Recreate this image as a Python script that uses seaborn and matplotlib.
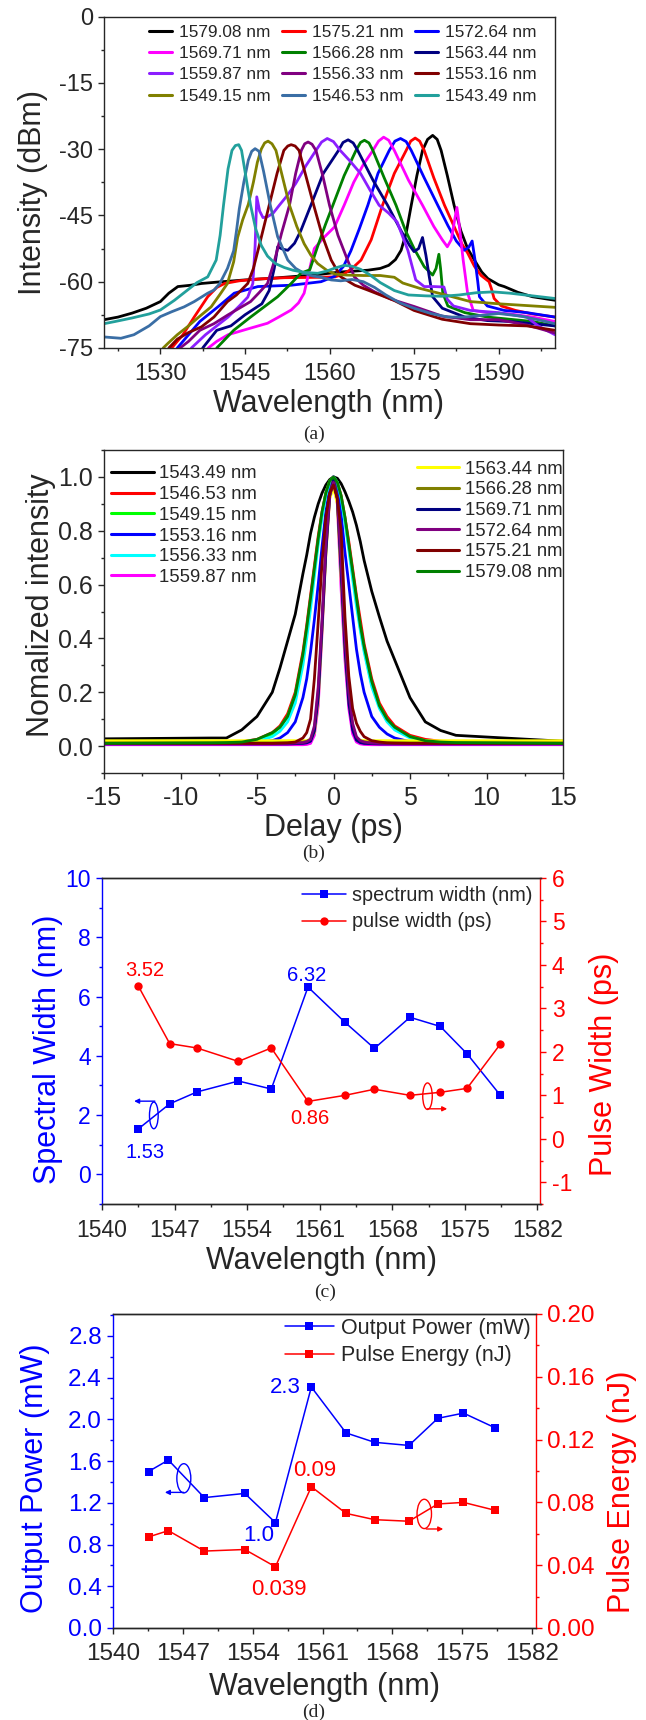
import matplotlib
matplotlib.use("Agg")
import matplotlib.pyplot as plt
import seaborn as sns
import pandas as pd
from matplotlib.patches import Ellipse
from matplotlib.lines import Line2D
from matplotlib.ticker import MultipleLocator, FormatStrFormatter

sns.set_theme(style="ticks")
plt.rcParams['font.family'] = ['Liberation Sans', 'DejaVu Sans']
plt.rcParams['axes.unicode_minus'] = False
plt.rcParams['axes.linewidth'] = 1.0
plt.rcParams['xtick.major.width'] = 1.0
plt.rcParams['ytick.major.width'] = 1.0
plt.rcParams['xtick.minor.width'] = 1.0
plt.rcParams['ytick.minor.width'] = 1.0

# ---------------- panel (a): spectra ----------------
a_labels = ["1579.08 nm", "1575.21 nm", "1572.64 nm", "1569.71 nm", "1566.28 nm", "1563.44 nm",
            "1559.87 nm", "1556.33 nm", "1553.16 nm", "1549.15 nm", "1546.53 nm", "1543.49 nm"]
a_colors = ["#000000", "#FF0000", "#0000FF", "#FF00FF", "#008000", "#000080",
            "#8B1EFF", "#800080", "#800000", "#808000", "#3A6EA5", "#22A09C"]

wl_1579 = [1520, 1522.5, 1525, 1527.5, 1530, 1531.5, 1533.1, 1535.4, 1537.3, 1540, 1545, 1550, 1555, 1558.5,
           1562, 1566.8, 1569, 1570.5, 1571.7, 1572.7, 1573.6, 1574.5, 1575.5, 1576.5, 1577.4, 1578.3, 1579.1,
           1579.8, 1580.9, 1582.1, 1583.3, 1584.5, 1585.7, 1587, 1588.1, 1590, 1591, 1593.4, 1596, 1600]
db_1579 = [-68.6, -68, -67.1, -66, -64.5, -62.6, -61.1, -60.8, -60.4, -60.1, -59.6, -59.2, -58.7, -58.3,
           -57.8, -57.4, -57.0, -56.3, -55, -52.9, -49, -42.7, -36, -30.3, -27.8, -26.9, -27.8,
           -30.3, -36, -42.7, -48.5, -52.5, -55.1, -57.8, -59.3, -60.7, -61.1, -62.4, -63.4, -64.2]

wl_1575 = [1532, 1534, 1536, 1538.4, 1540, 1541.4, 1544, 1547.3, 1552, 1558.5, 1561, 1562.5, 1564, 1565.6,
           1567.4, 1569.4, 1571.5, 1573.6, 1574.4, 1575.2, 1576.0, 1576.8, 1578.5, 1580.4, 1582.1, 1583.5,
           1584.5, 1585.7, 1586.9, 1587.7, 1588.3, 1588.7, 1589.2, 1590.5, 1593, 1596, 1600]
db_1575 = [-75, -72, -68, -63.4, -61.3, -60.4, -59.8, -59.4, -59.1, -59.0, -58.9, -58.3, -57, -55.1,
           -50.5, -42.7, -35.5, -30.3, -28.2, -27.5, -28.2, -30.3, -36.5, -42.7, -47.5, -51.5,
           -53.5, -56.5, -58.6, -59.4, -60.0, -61.5, -63.8, -65.5, -66.5, -67.3, -68]

wl_1572 = [1533, 1535, 1537, 1540.2, 1543.1, 1547.3, 1553.2, 1558.5, 1560.9, 1562.5, 1563.8, 1565.3,
           1566.8, 1568.6, 1570.6, 1571.6, 1572.6, 1573.6, 1574.5, 1576.8, 1579.2, 1581, 1582.5, 1583.9,
           1584.7, 1585.3, 1585.8, 1586.3, 1586.6, 1588, 1591, 1595, 1600]
db_1572 = [-75, -72, -69, -65.7, -62.6, -61.1, -60.8, -60, -58.8, -56.5, -53, -48,
           -42.7, -35.5, -30.3, -28.2, -27.6, -28.3, -30.3, -36.5, -42.7, -47.3, -50.8, -52.9,
           -52.2, -50.8, -55, -60, -63.4, -65.5, -66.5, -67, -68]

wl_1569 = [1538.5, 1540, 1542, 1546, 1549, 1551, 1553.2, 1554.5, 1555.5, 1556.5, 1557.3, 1559, 1560.9,
           1562.6, 1564.3, 1566, 1567.7, 1568.7, 1569.6, 1570.5, 1571.5, 1574, 1576.5, 1578.5, 1580,
           1580.9, 1581.6, 1582.2, 1582.6, 1583, 1583.7, 1584.5, 1585.5, 1588, 1592, 1596, 1600]
db_1569 = [-75, -73.5, -72, -70.5, -69.4, -68, -66.4, -64.8, -62.6, -57, -52.5, -50, -47.6,
           -42.7, -37.5, -33.5, -30.3, -28.2, -27.3, -28, -30.3, -37, -42.7, -47.5, -50.5,
           -52.1, -50.5, -46, -43.2, -47, -55, -62.6, -66.5, -67, -67.3, -68, -69]

wl_1566 = [1540, 1543, 1546, 1548.4, 1550.8, 1553.2, 1554.9, 1556.5, 1557.9, 1559.3, 1560.6, 1562.6,
           1564.7, 1565.5, 1566.2, 1567, 1567.7, 1569.7, 1571.8, 1573.5, 1575, 1576.8, 1578.3, 1578.9,
           1579.4, 1579.7, 1580.1, 1581, 1584, 1588, 1592, 1596, 1600]
db_1566 = [-75, -71, -68, -65.7, -63.4, -60.4, -58.1, -57.3, -52, -47, -42.7, -36,
           -30.3, -28.5, -28, -28.6, -30.3, -36.5, -42.7, -48.5, -52.5, -56.6, -58.5, -57,
           -53.8, -57, -62.6, -65.5, -67, -68, -68.5, -69, -70]

wl_1563 = [1537.5, 1540, 1542.5, 1545, 1548, 1549.3, 1550.2, 1550.8, 1551.6, 1552.6, 1553.8, 1554.9,
           1556.7, 1558.9, 1561.6, 1562.4, 1563.3, 1564.2, 1565, 1567.7, 1570.3, 1572.7, 1574.2, 1575,
           1575.8, 1576.5, 1577.1, 1577.7, 1578.3, 1580, 1584, 1588, 1592, 1596, 1600]
db_1563 = [-75, -71, -70, -67.5, -65, -62, -57, -52.1, -52.6, -52.9, -51.3, -48.5,
           -42.7, -35.5, -30.3, -28.5, -27.9, -28.6, -30.3, -37, -42.7, -48.5, -51.8, -53.2,
           -52.5, -50, -54, -58.9, -63.4, -66, -68, -68.8, -69, -69.5, -70]

wl_1559 = [1535.5, 1538, 1540, 1542, 1544, 1545.5, 1546.4, 1546.8, 1547.1, 1547.6, 1548.2, 1549, 1550,
           1551.1, 1552.5, 1554, 1555.8, 1557.6, 1558.6, 1559.6, 1560.7, 1561.9, 1563.5, 1565.5, 1567.2,
           1568.8, 1570.5, 1572, 1573.9, 1575.3, 1576.8, 1578.5, 1580.3, 1580.9, 1582, 1585, 1590, 1595,
           1597, 1600]
db_1559 = [-75, -72, -70, -68, -65.5, -63.5, -60.4, -52, -40.8, -44, -45.5, -45.3, -44.5,
           -42.7, -40.5, -37.8, -33.8, -30.3, -28.4, -27.6, -28.3, -30.3, -32.5, -35.5, -39.3,
           -42.7, -44.5, -46.5, -52.9, -59.6, -61.1, -61.1, -61.2, -64, -65.5, -66.5, -67, -68,
           -70, -72]

wl_1556 = [1533.5, 1535, 1537, 1539.5, 1542, 1544, 1546, 1547.5, 1549, 1550.3, 1551.5, 1552.9, 1554,
           1555.0, 1555.6, 1556.2, 1556.9, 1557.6, 1558.8, 1560.0, 1561.5, 1563.2, 1564.4, 1566, 1568,
           1571, 1575, 1580, 1585, 1590, 1595, 1600]
db_1556 = [-75, -73.5, -71, -69.5, -67.5, -66, -64.5, -62.5, -60.4, -55, -49, -42.7, -35.5,
           -30.3, -28.8, -28.4, -28.9, -30.3, -36, -42.7, -49.5, -55.1, -58.9, -60.8, -62.3,
           -64, -65.6, -67.8, -68.6, -68.6, -69.8, -71.6]

wl_1553 = [1531.5, 1533, 1535, 1537.3, 1539.5, 1541.9, 1543.5, 1545.5, 1546.5, 1547.5, 1549.3, 1550.7,
           1551.9, 1552.6, 1553.2, 1553.9, 1554.6, 1555.9, 1557.2, 1558.7, 1560.3, 1562, 1564.5, 1566.8,
           1569, 1571.4, 1575, 1580, 1585, 1590, 1595, 1600]
db_1553 = [-75, -73, -71.5, -70.2, -68, -64.5, -63, -60.4, -57, -52, -42.7, -35.5,
           -30.3, -29.3, -29.0, -29.3, -30.3, -36.5, -42.7, -49.5, -55.1, -58.9, -60.8, -61.9,
           -63, -64.2, -66.5, -68.5, -69.5, -69.8, -70, -71]

wl_1549 = [1530.5, 1531.3, 1533, 1534.8, 1537, 1539, 1540.5, 1541.9, 1543, 1543.7, 1544.6, 1545.6,
           1546.5, 1547.2, 1547.9, 1548.5, 1549.1, 1549.8, 1550.5, 1551.7, 1552.9, 1554.2, 1555.5,
           1556.7, 1557.9, 1559.5, 1561, 1563, 1566, 1569, 1571.5, 1573, 1576, 1580, 1585, 1590,
           1595, 1600]
db_1549 = [-75, -74, -72, -70.2, -67.8, -65.7, -63, -60.4, -55.5, -50, -46, -42.5,
           -37.5, -33, -30, -28.6, -28.2, -28.8, -30.3, -36.5, -42.7, -47.5, -51.4,
           -54, -55.9, -57.4, -58.3, -58.5, -58.6, -58.6, -59, -60.3, -61.5, -62.8, -64.5, -65,
           -65.4, -65.8]

wl_1546 = [1520, 1523, 1525.3, 1528, 1530, 1532, 1534.2, 1536, 1538.4, 1539.5, 1540.5, 1541.9, 1543,
           1543.5, 1544.0, 1544.8, 1545.6, 1546.2, 1546.8, 1547.5, 1548.3, 1549.5, 1550.8, 1552.6, 1554,
           1555.5, 1557, 1558.5, 1560.3, 1562, 1564, 1566, 1568, 1570, 1572.5, 1575, 1578, 1581, 1584,
           1587, 1590, 1594, 1597, 1600]
db_1546 = [-72.5, -72.8, -72, -70, -67.9, -66.8, -65.7, -64.5, -62.6, -61.9, -60.5, -57, -53,
           -48.5, -43.5, -37.5, -32.5, -30.5, -29.9, -30.5, -35, -42.7, -49.8, -55.1, -57,
           -58.1, -58.7, -59, -59.6, -59.8, -59.5, -60, -61.3, -63, -64.8, -66, -67.2, -68, -68,
           -67.6, -67.2, -67.8, -68.6, -69.5]

wl_1543 = [1520, 1522, 1525, 1528, 1530, 1532.5, 1534.8, 1536.5, 1538.4, 1539.9, 1540.6, 1541.2, 1542,
           1542.7, 1543.3, 1543.9, 1544.4, 1545.2, 1546.0, 1546.9, 1547.9, 1549, 1550.4, 1552, 1553.5,
           1555.5, 1557.9, 1559.5, 1561, 1562.6, 1564, 1565.5, 1567, 1569, 1571.5, 1574, 1577, 1580,
           1583, 1586, 1589, 1592, 1596, 1600]
db_1543 = [-69.5, -69, -68.2, -67.3, -66.4, -64.2, -61.9, -60.2, -58.9, -55.1, -49.5, -42.7, -34.5,
           -30.3, -29.2, -29.0, -30.3, -36.5, -42.7, -48, -51.8, -54.2, -55.9, -56.8, -57.4,
           -57.9, -58.1, -57.6, -56.9, -56.3, -56.5, -57.2, -58.3, -60.2, -62, -63, -63.2, -63.3,
           -63, -62.5, -62.3, -62.6, -63.2, -63.8]

a_wl = [wl_1579, wl_1575, wl_1572, wl_1569, wl_1566, wl_1563, wl_1559, wl_1556, wl_1553, wl_1549, wl_1546, wl_1543]
a_db = [db_1579, db_1575, db_1572, db_1569, db_1566, db_1563, db_1559, db_1556, db_1553, db_1549, db_1546, db_1543]

# ---------------- panel (b): autocorrelation ----------------
b_labels = ["1543.49 nm", "1546.53 nm", "1549.15 nm", "1553.16 nm", "1556.33 nm", "1559.87 nm",
            "1563.44 nm", "1566.28 nm", "1569.71 nm", "1572.64 nm", "1575.21 nm", "1579.08 nm"]
b_colors = ["#000000", "#FF0000", "#00FF00", "#0000FF", "#00FFFF", "#FF00FF",
            "#FFFF00", "#808000", "#000080", "#800080", "#800000", "#008000"]
delay_ps = [-15, -8, -7, -6, -5, -4, -3.5, -3, -2.5, -2, -1.75, -1.5, -1.25, -1, -0.75, -0.5, -0.25, 0,
            0.25, 0.5, 0.75, 1, 1.25, 1.5, 1.75, 2, 2.5, 3, 3.5, 4, 5, 6, 7, 8, 15]
ac_1543 = [0.027, 0.03, 0.03, 0.06, 0.11, 0.2, 0.29, 0.39, 0.49, 0.64, 0.71, 0.79, 0.85, 0.9, 0.94, 0.97, 0.99, 1.0,
           0.995, 0.975, 0.945, 0.91, 0.87, 0.82, 0.76, 0.69, 0.575, 0.48, 0.39, 0.32, 0.18, 0.09, 0.058, 0.04, 0.018]
ac_1546 = [0.012, 0.012, 0.013, 0.016, 0.025, 0.05, 0.075, 0.12, 0.2, 0.35, 0.45, 0.56, 0.67, 0.78, 0.87, 0.94, 0.985, 1.0,
           0.98, 0.93, 0.85, 0.76, 0.66, 0.56, 0.47, 0.38, 0.25, 0.16, 0.11, 0.075, 0.04, 0.025, 0.018, 0.015, 0.012]
ac_1549 = [0.01, 0.01, 0.011, 0.015, 0.022, 0.045, 0.07, 0.11, 0.19, 0.33, 0.43, 0.54, 0.65, 0.76, 0.86, 0.94, 0.985, 1.0,
           0.98, 0.92, 0.84, 0.74, 0.64, 0.54, 0.44, 0.36, 0.23, 0.15, 0.1, 0.065, 0.035, 0.02, 0.015, 0.013, 0.01]
ac_1553 = [0.01, 0.01, 0.01, 0.01, 0.013, 0.02, 0.03, 0.05, 0.09, 0.18, 0.25, 0.35, 0.47, 0.6, 0.74, 0.87, 0.96, 1.0,
           0.96, 0.86, 0.72, 0.6, 0.48, 0.36, 0.27, 0.2, 0.11, 0.07, 0.045, 0.03, 0.016, 0.012, 0.01, 0.01, 0.01]
ac_1556 = [0.01, 0.01, 0.011, 0.012, 0.018, 0.035, 0.055, 0.09, 0.16, 0.3, 0.4, 0.51, 0.63, 0.75, 0.85, 0.93, 0.98, 1.0,
           0.98, 0.92, 0.83, 0.73, 0.62, 0.52, 0.43, 0.35, 0.22, 0.14, 0.09, 0.06, 0.03, 0.018, 0.014, 0.012, 0.01]
ac_1559 = [0.005, 0.005, 0.005, 0.005, 0.005, 0.005, 0.005, 0.005, 0.005, 0.005, 0.006, 0.01, 0.04, 0.15, 0.42, 0.72, 0.92, 1.0,
           0.9, 0.58, 0.32, 0.14, 0.045, 0.015, 0.008, 0.006, 0.005, 0.005, 0.005, 0.005, 0.005, 0.005, 0.005, 0.005, 0.005]
ac_1563 = [0.02, 0.02, 0.02, 0.02, 0.02, 0.02, 0.02, 0.02, 0.02, 0.02, 0.02, 0.025, 0.05, 0.17, 0.43, 0.71, 0.92, 0.96,
           0.9, 0.62, 0.36, 0.17, 0.07, 0.03, 0.022, 0.02, 0.02, 0.02, 0.02, 0.02, 0.02, 0.02, 0.02, 0.02, 0.02]
ac_1566 = [0.012, 0.012, 0.012, 0.012, 0.012, 0.012, 0.012, 0.012, 0.013, 0.015, 0.018, 0.025, 0.065, 0.2, 0.45, 0.73, 0.93, 0.99,
           0.92, 0.66, 0.38, 0.18, 0.075, 0.03, 0.02, 0.016, 0.013, 0.012, 0.012, 0.012, 0.012, 0.012, 0.012, 0.012, 0.012]
ac_1569 = [0.008, 0.008, 0.008, 0.008, 0.008, 0.008, 0.008, 0.008, 0.009, 0.01, 0.012, 0.018, 0.055, 0.18, 0.44, 0.72, 0.93, 0.99,
           0.92, 0.64, 0.36, 0.16, 0.06, 0.022, 0.013, 0.01, 0.009, 0.008, 0.008, 0.008, 0.008, 0.008, 0.008, 0.008, 0.008]
ac_1572 = [0.01, 0.01, 0.01, 0.01, 0.01, 0.01, 0.01, 0.01, 0.011, 0.013, 0.016, 0.025, 0.075, 0.22, 0.47, 0.75, 0.93, 0.98,
           0.92, 0.68, 0.4, 0.2, 0.085, 0.035, 0.02, 0.015, 0.011, 0.01, 0.01, 0.01, 0.01, 0.01, 0.01, 0.01, 0.01]
ac_1575 = [0.01, 0.01, 0.01, 0.01, 0.01, 0.01, 0.011, 0.012, 0.015, 0.03, 0.05, 0.1, 0.25, 0.46, 0.68, 0.85, 0.94, 0.97,
           0.92, 0.8, 0.48, 0.26, 0.14, 0.085, 0.055, 0.035, 0.02, 0.015, 0.012, 0.011, 0.01, 0.01, 0.01, 0.01, 0.01]
ac_1579 = [0.01, 0.012, 0.013, 0.015, 0.025, 0.05, 0.07, 0.11, 0.19, 0.34, 0.44, 0.55, 0.66, 0.77, 0.87, 0.94, 0.985, 1.0,
           0.98, 0.93, 0.85, 0.75, 0.65, 0.55, 0.45, 0.37, 0.24, 0.15, 0.1, 0.07, 0.035, 0.02, 0.015, 0.013, 0.01]
b_traces = [ac_1543, ac_1546, ac_1549, ac_1553, ac_1556, ac_1559, ac_1563, ac_1566, ac_1569, ac_1572, ac_1575, ac_1579]

# ---------------- panel (c) ----------------
c_wl = [1543.49, 1546.53, 1549.15, 1553.16, 1556.33, 1559.87, 1563.44, 1566.28, 1569.71, 1572.64, 1575.21, 1578.4]
c_spec = [1.53, 2.38, 2.78, 3.15, 2.88, 6.32, 5.13, 4.25, 5.30, 4.99, 4.07, 2.68]
c_pulse = [3.52, 2.19, 2.09, 1.78, 2.09, 0.86, 1.00, 1.14, 1.00, 1.07, 1.16, 2.17]

# ---------------- panel (d) ----------------
d_wl = [1543.56, 1545.55, 1549.15, 1553.21, 1556.28, 1559.88, 1563.36, 1566.22, 1569.66, 1572.56, 1575.13, 1578.28]
d_power = [1.50, 1.61, 1.25, 1.29, 1.01, 2.31, 1.87, 1.78, 1.75, 2.01, 2.06, 1.92]
d_energy = [0.058, 0.062, 0.049, 0.050, 0.039, 0.090, 0.073, 0.069, 0.068, 0.079, 0.080, 0.075]

W, H = 646, 1720
fig = plt.figure(figsize=(W / 100, H / 100), dpi=100)


def rect(l, r, t, b):
    return [l / W, 1 - b / H, (r - l) / W, (b - t) / H]


TICK_KW = dict(direction='out', length=4.5, width=1.0)
MINOR_KW = dict(direction='out', length=2.5, width=1.0)
BLUE, RED = "#0000FF", "#FF0000"
SERIF = ['Liberation Serif', 'DejaVu Serif']

# ======== (a) ========
axA = fig.add_axes(rect(104, 555, 16.5, 348))
for wl, db, col in zip(a_wl, a_db, a_colors):
    sns.lineplot(x=wl, y=db, color=col, lw=2.0, ax=axA, estimator=None, sort=False)
axA.set_xlim(1520, 1600)
axA.set_ylim(-75, 0)
axA.xaxis.set_major_locator(MultipleLocator(15))
axA.xaxis.set_minor_locator(MultipleLocator(7.5))
axA.yaxis.set_major_locator(MultipleLocator(15))
axA.yaxis.set_minor_locator(MultipleLocator(7.5))
axA.tick_params(which='major', labelsize=17, **TICK_KW)
axA.tick_params(axis='x', which='major', pad=6)
axA.tick_params(which='minor', **MINOR_KW)
axA.set_xlabel("Wavelength (nm)", fontsize=22)
axA.set_ylabel("Intensity (dBm)", fontsize=22)
axA.xaxis.set_label_coords(0.497, -0.125)
axA.yaxis.set_label_coords(-0.125, 0.47)
hA = [Line2D([0], [0], color=c, lw=2.2) for c in a_colors]
order = [0, 3, 6, 9, 1, 4, 7, 10, 2, 5, 8, 11]
axA.legend([hA[i] for i in order], [a_labels[i] for i in order], ncol=3, frameon=False,
           fontsize=12.4, handlelength=1.35, handletextpad=0.4, columnspacing=0.65,
           labelspacing=0.36, loc='upper left', bbox_to_anchor=(0.085, 0.996), borderaxespad=0)
fig.text(314 / W, 1 - 434 / H, "(a)", family=SERIF, fontsize=14, ha='center', va='center')

# ======== (b) ========
axB = fig.add_axes(rect(104, 563, 450, 773))
for tr, col in zip(b_traces, b_colors):
    sns.lineplot(x=delay_ps, y=tr, color=col, lw=2.0, ax=axB, estimator=None, sort=False)
axB.set_xlim(-15, 15)
axB.set_ylim(-0.1, 1.1)
axB.xaxis.set_major_locator(MultipleLocator(5))
axB.xaxis.set_minor_locator(MultipleLocator(2.5))
axB.yaxis.set_major_locator(MultipleLocator(0.2))
axB.yaxis.set_minor_locator(MultipleLocator(0.1))
axB.yaxis.set_major_formatter(FormatStrFormatter('%.1f'))
axB.tick_params(which='major', labelsize=18, **TICK_KW)
axB.tick_params(axis='x', which='major', pad=5)
axB.tick_params(which='minor', **MINOR_KW)
axB.set_xlabel("Delay (ps)", fontsize=22)
axB.set_ylabel("Nomalized intensity", fontsize=22)
axB.xaxis.set_label_coords(0.5, -0.125)
axB.yaxis.set_label_coords(-0.105, 0.52)
hB = [Line2D([0], [0], color=c, lw=2.2) for c in b_colors]
legB1 = axB.legend(hB[:6], b_labels[:6], frameon=False, fontsize=13.3, handlelength=2.3,
                   handletextpad=0.3, labelspacing=0.2, loc='upper left',
                   bbox_to_anchor=(0.0, 0.975), borderaxespad=0)
axB.add_artist(legB1)
axB.legend(hB[6:], b_labels[6:], frameon=False, fontsize=13.3, handlelength=2.3,
           handletextpad=0.3, labelspacing=0.2, loc='upper right',
           bbox_to_anchor=(1.015, 0.99), borderaxespad=0)
fig.text(314 / W, 1 - 853 / H, "(b)", family=SERIF, fontsize=14, ha='center', va='center')

# ======== (c) ========
axC = fig.add_axes(rect(102, 540.5, 878, 1204))
sns.lineplot(x=c_wl, y=c_spec, color=BLUE, marker='s', markersize=5.5, markeredgewidth=0,
             lw=1.1, ax=axC, estimator=None, sort=False)
axC2 = axC.twinx()
sns.lineplot(x=c_wl, y=c_pulse, color=RED, marker='o', markersize=6, markeredgewidth=0,
             lw=1.1, ax=axC2, estimator=None, sort=False)
axC.set_xlim(1540, 1582.3)
axC.set_ylim(-1, 10)
axC2.set_ylim(-1.5, 6)
axC.set_xticks([1540, 1547, 1554, 1561, 1568, 1575, 1582])
axC.xaxis.set_minor_locator(MultipleLocator(3.5))
axC.set_yticks([0, 2, 4, 6, 8, 10])
axC.set_yticks([-1, 1, 3, 5, 7, 9], minor=True)
axC2.set_yticks([-1, 0, 1, 2, 3, 4, 5, 6])
axC2.set_yticks([-1.5, -0.5, 0.5, 1.5, 2.5, 3.5, 4.5, 5.5], minor=True)
for ax in (axC, axC2):
    ax.tick_params(which='major', labelsize=16.5, **TICK_KW)
    ax.tick_params(which='minor', **MINOR_KW)
axC.tick_params(axis='x', which='major', pad=6)
axC.tick_params(axis='y', which='both', colors=BLUE)
axC2.tick_params(axis='y', which='both', colors=RED)
axC.spines['left'].set_color(BLUE)
axC2.spines['left'].set_visible(False)
axC.spines['right'].set_visible(False)
axC2.spines['right'].set_color(RED)
axC.set_xlabel("Wavelength (nm)", fontsize=22)
axC.set_ylabel("Spectral Width (nm)", fontsize=22, color=BLUE)
axC2.set_ylabel("Pulse Width (ps)", fontsize=22, color=RED)
axC.xaxis.set_label_coords(0.5, -0.13)
axC.yaxis.set_label_coords(-0.09, 0.475)
axC2.yaxis.set_label_coords(1.11, 0.43)
hC = [Line2D([0], [0], color=BLUE, marker='s', ms=5.5, mew=0, lw=1.1),
      Line2D([0], [0], color=RED, marker='o', ms=6, mew=0, lw=1.1)]
axC2.legend(hC, ["spectrum width (nm)", "pulse width (ps)"], frameon=False, fontsize=14.3,
            handlelength=2.2, handletextpad=0.3, labelspacing=0.38, loc='upper right',
            bbox_to_anchor=(1.0, 1.0), borderaxespad=0)
axC2.text(1544.1, 3.87, "3.52", color=RED, fontsize=14.5, ha='center', va='center')
axC.text(1559.74, 6.70, "6.32", color=BLUE, fontsize=14.5, ha='center', va='center')
axC.text(1544.2, 0.75, "1.53", color=BLUE, fontsize=14.5, ha='center', va='center')
axC2.text(1560.1, 0.46, "0.86", color=RED, fontsize=14.5, ha='center', va='center')
axC.add_patch(Ellipse((1545.0, 1.99), 0.84, 0.9, fill=False, edgecolor=BLUE, lw=1.0))
axC.annotate("", xy=(1543.1, 2.47), xytext=(1545.1, 2.47),
             arrowprops=dict(arrowstyle='-|>', color=BLUE, lw=1.0, mutation_scale=7, shrinkA=0, shrinkB=0))
axC2.add_patch(Ellipse((1571.4, 0.98), 0.92, 0.61, fill=False, edgecolor=RED, lw=1.0))
axC2.annotate("", xy=(1573.3, 0.69), xytext=(1571.4, 0.69),
              arrowprops=dict(arrowstyle='-|>', color=RED, lw=1.0, mutation_scale=7, shrinkA=0, shrinkB=0))
fig.text(325 / W, 1 - 1292 / H, "(c)", family=SERIF, fontsize=14, ha='center', va='center')

# ======== (d) ========
axD = fig.add_axes(rect(113, 536, 1314, 1628))
sns.lineplot(x=d_wl, y=d_power, color=BLUE, marker='s', markersize=5.5, markeredgewidth=0,
             lw=1.1, ax=axD, estimator=None, sort=False)
axD2 = axD.twinx()
sns.lineplot(x=d_wl, y=d_energy, color=RED, marker='s', markersize=5.5, markeredgewidth=0,
             lw=1.1, ax=axD2, estimator=None, sort=False)
axD.set_xlim(1540, 1582.4)
axD.set_ylim(0, 3.01)
axD2.set_ylim(0, 0.2)
axD.set_xticks([1540, 1547, 1554, 1561, 1568, 1575, 1582])
axD.xaxis.set_minor_locator(MultipleLocator(3.5))
axD.set_yticks([0.0, 0.4, 0.8, 1.2, 1.6, 2.0, 2.4, 2.8])
axD.set_yticks([0.2, 0.6, 1.0, 1.4, 1.8, 2.2, 2.6, 3.0], minor=True)
axD.yaxis.set_major_formatter(FormatStrFormatter('%.1f'))
axD2.set_yticks([0.0, 0.04, 0.08, 0.12, 0.16, 0.20])
axD2.set_yticks([0.02, 0.06, 0.10, 0.14, 0.18], minor=True)
axD2.yaxis.set_major_formatter(FormatStrFormatter('%.2f'))
for ax in (axD, axD2):
    ax.tick_params(which='major', labelsize=17.5, **TICK_KW)
    ax.tick_params(which='minor', **MINOR_KW)
axD.tick_params(axis='x', which='major', pad=6)
axD.tick_params(axis='y', which='both', colors=BLUE)
axD2.tick_params(axis='y', which='both', colors=RED)
axD.spines['left'].set_color(BLUE)
axD2.spines['left'].set_visible(False)
axD.spines['right'].set_visible(False)
axD2.spines['right'].set_color(RED)
axD.set_xlabel("Wavelength (nm)", fontsize=22)
axD.set_ylabel("Output Power (mW)", fontsize=22, color=BLUE)
axD2.set_ylabel("Pulse Energy (nJ)", fontsize=22, color=RED)
axD.xaxis.set_label_coords(0.5, -0.14)
axD.yaxis.set_label_coords(-0.15, 0.478)
axD2.yaxis.set_label_coords(1.168, 0.433)
hD = [Line2D([0], [0], color=BLUE, marker='s', ms=5.5, mew=0, lw=1.1),
      Line2D([0], [0], color=RED, marker='s', ms=5.5, mew=0, lw=1.1)]
axD2.legend(hD, ["Output Power (mW)", "Pulse Energy (nJ)"], frameon=False, fontsize=15.5,
            handlelength=2.3, handletextpad=0.3, labelspacing=0.3, loc='upper right',
            bbox_to_anchor=(1.007, 1.015), borderaxespad=0)
axD.text(1557.3, 2.31, "2.3", color=BLUE, fontsize=16, ha='center', va='center')
axD.text(1554.6, 0.89, "1.0", color=BLUE, fontsize=16, ha='center', va='center')
axD2.text(1560.2, 0.1002, "0.09", color=RED, fontsize=16, ha='center', va='center')
axD2.text(1556.65, 0.0246, "0.039", color=RED, fontsize=16, ha='center', va='center')
axD.add_patch(Ellipse((1547.1, 1.435), 1.4, 0.28, fill=False, edgecolor=BLUE, lw=1.0))
axD.annotate("", xy=(1545.2, 1.30), xytext=(1547.1, 1.30),
             arrowprops=dict(arrowstyle='-|>', color=BLUE, lw=1.0, mutation_scale=7, shrinkA=0, shrinkB=0))
axD2.add_patch(Ellipse((1571.2, 1.09 / 15), 1.45, 0.28 / 15, fill=False, edgecolor=RED, lw=1.0))
axD2.annotate("", xy=(1573.1, 0.946 / 15), xytext=(1571.4, 0.946 / 15),
              arrowprops=dict(arrowstyle='-|>', color=RED, lw=1.0, mutation_scale=7, shrinkA=0, shrinkB=0))
fig.text(314 / W, 1 - 1712 / H, "(d)", family=SERIF, fontsize=14, ha='center', va='center')

fig.savefig("out.png", dpi=100)
